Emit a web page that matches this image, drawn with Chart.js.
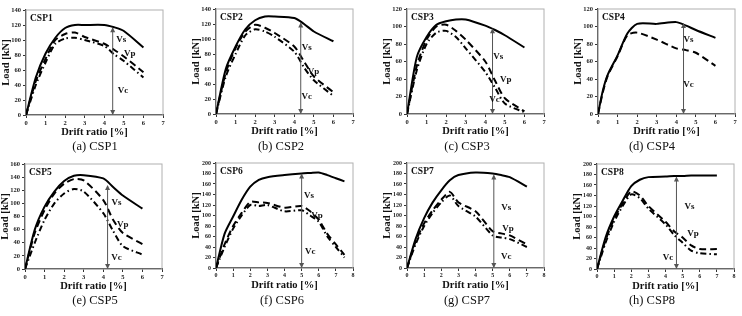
<!DOCTYPE html>
<html>
<head>
<meta charset="utf-8">
<script src="https://cdn.jsdelivr.net/npm/chart.js@4.4.0/dist/chart.umd.min.js"></script>
<style>
  body { margin: 0; background: #fff; width: 742px; height: 316px; position: relative; overflow: hidden; }
  .panel { position: absolute; width: 167px; height: 137px; }
  .cap { position: absolute; font-family: "Liberation Serif", serif; font-size: 12.5px; color: #111; transform: translate(-50%, -50%); white-space: nowrap; }
</style>
</head>
<body>
<script>
// drift ratio [%] and load [kN]
var driftA = [0, 0.5, 1, 1.5, 2, 2.5, 3, 4, 4.5, 5, 6];
var csp1Vs = [0, 50, 82, 103, 116, 120, 120, 120, 117, 112, 90];
var csp1Vp = [0, 45, 75, 100, 108, 110, 104, 95, 87, 78, 57];
var csp1Vc = [0, 40, 70, 95, 102, 103, 100, 92, 81, 72, 50];

var csp2Vs = [0, 60, 90, 113, 125, 130, 130, 128, 120, 110, 97];
var csp2Vp = [0, 55, 88, 110, 119, 115, 108, 90, 70, 50, 29];
var csp2Vc = [0, 50, 80, 105, 113, 110, 103, 83, 62, 45, 24];

var csp3Vs = [0, 65, 88, 102, 106, 108, 108, 101, 96, 90, 76];
var csp3Vp = [0, 55, 85, 100, 102, 95, 85, 60, 38, 18, 3];
var csp3Vc = [0, 50, 80, 93, 95, 88, 75, 48, 30, 12, 2];

var driftD = [0, 0.25, 0.5, 1, 1.5, 2, 3, 4, 4.5, 5, 6];
var csp4Vs = [0, 27, 45, 67, 92, 103, 103, 105, 101, 96, 87];
var csp4Vp = [0, 25, 44, 66, 90, 93, 85, 75, 73, 70, 55];

var csp5Vs = [0, 60, 95, 118, 134, 142, 143, 138, 125, 112, 92];
var csp5Vp = [0, 55, 90, 115, 130, 137, 135, 105, 75, 55, 38];
var csp5Vc = [0, 40, 75, 100, 115, 122, 118, 85, 58, 35, 22];

var driftF = [0, 0.5, 1, 1.5, 2, 2.5, 3, 4, 5, 5.5, 6, 6.5, 7, 7.5];
var csp6Vs = [0, 65, 98, 130, 155, 168, 173, 177, 180, 181, 182, 177, 171, 165];
var csp6Vp = [0, 45, 80, 105, 126, 125, 124, 115, 118, 108, 92, 65, 45, 25];
var csp6Vc = [0, 40, 75, 100, 120, 118, 120, 108, 110, 100, 88, 60, 40, 20];

var driftG = [0, 0.5, 1, 1.5, 2, 2.5, 3, 4, 5, 5.5, 6, 7];
var csp7Vs = [0, 55, 95, 125, 148, 167, 177, 182, 180, 177, 173, 155];
var csp7Vp = [0, 50, 85, 110, 130, 145, 125, 108, 70, 66, 62, 45];
var csp7Vc = [0, 45, 80, 105, 125, 138, 118, 98, 62, 58, 55, 40];

var driftH = [0, 0.5, 1, 1.5, 2, 2.5, 3, 4, 4.5, 5, 5.5, 6, 7];
var csp8Vs = [0, 60, 100, 130, 158, 170, 175, 176, 177, 177, 178, 178, 178];
var csp8Vp = [0, 55, 95, 125, 148, 140, 120, 90, 72, 60, 45, 38, 38];
var csp8Vc = [0, 50, 90, 120, 142, 135, 115, 85, 65, 50, 35, 30, 28];

var captions = ['(a) CSP1', '(b) CSP2', '(c) CSP3', '(d) CSP4', '(e) CSP5', '(f) CSP6', '(g) CSP7', '(h) CSP8'];

var panels = [
  { name: 'CSP1', x: driftA, vs: csp1Vs, vp: csp1Vp, vc: csp1Vc, xMax: 7, yMax: 140, arrow: [4.43, 117], lab: [[4.87, 100], [5.3, 82], [4.95, 33]], pos: [0, 2], cap: [95, 146] },
  { name: 'CSP2', x: driftA, vs: csp2Vs, vp: csp2Vp, vc: csp2Vc, xMax: 7, yMax: 140, arrow: [4.33, 122], lab: [[4.64, 88], [4.98, 57], [4.64, 23]], pos: [190, 1], cap: [281, 146] },
  { name: 'CSP3', x: driftA, vs: csp3Vs, vp: csp3Vp, vc: csp3Vc, xMax: 7, yMax: 120, arrow: [4.37, 98], lab: [[4.66, 66], [5.04, 39], [4.47, 16]], pos: [381, 1], cap: [467, 146] },
  { name: 'CSP4', x: driftD, vs: csp4Vs, vp: csp4Vp, vc: null, xMax: 7, yMax: 120, arrow: [4.37, 104], lab: [[4.62, 85], null, [4.62, 33]], pos: [572, 1], cap: [652, 146] },
  { name: 'CSP5', x: driftA, vs: csp5Vs, vp: csp5Vp, vc: csp5Vc, xMax: 7, yMax: 160, arrow: [4.22, 128], lab: [[4.68, 101], [4.99, 68], [4.68, 17]], pos: [-1, 156], cap: [95, 300] },
  { name: 'CSP6', x: driftF, vs: csp6Vs, vp: csp6Vp, vc: csp6Vc, xMax: 8, yMax: 200, arrow: [5.0, 180], lab: [[5.43, 137], [5.9, 100], [5.5, 32]], pos: [190, 155], cap: [282, 300] },
  { name: 'CSP7', x: driftG, vs: csp7Vs, vp: csp7Vp, vc: csp7Vc, xMax: 8, yMax: 200, arrow: [5.07, 178], lab: [[5.8, 115], [5.9, 74], [5.8, 21]], pos: [381, 155], cap: [467, 300] },
  { name: 'CSP8', x: driftH, vs: csp8Vs, vp: csp8Vp, vc: csp8Vc, xMax: 8, yMax: 200, arrow: [4.64, 176], lab: [[5.4, 119], [5.6, 68], [4.14, 22]], pos: [571, 156], cap: [652, 300] }
];

var serif = '"Liberation Serif", "Times New Roman", serif';

function pts(xs, ys) {
  var out = [];
  for (var i = 0; i < xs.length; i++) out.push({ x: xs[i], y: ys[i] });
  return out;
}

// grey frame, arrow and Vs/Vp/Vc labels drawn in data coordinates
var decor = {
  id: 'decor',
  beforeDatasetsDraw: function(chart) {
    var a = chart.chartArea, ctx = chart.ctx;
    ctx.save();
    ctx.strokeStyle = '#b0b0b0';
    ctx.lineWidth = 1;
    ctx.strokeRect(a.left, a.top, a.right - a.left, a.bottom - a.top);
    ctx.restore();
  },
  afterDatasetsDraw: function(chart) {
    var p = chart.options.plugins.decor.panel;
    var sx = chart.scales.x, sy = chart.scales.y, ctx = chart.ctx, a = chart.chartArea;
    ctx.save();
    var ax = sx.getPixelForValue(p.arrow[0]);
    var y0 = sy.getPixelForValue(0), y1 = sy.getPixelForValue(p.arrow[1]);
    ctx.strokeStyle = '#555';
    ctx.fillStyle = '#555';
    ctx.lineWidth = 1;
    ctx.beginPath(); ctx.moveTo(ax, y0 - 1); ctx.lineTo(ax, y1 + 1); ctx.stroke();
    ctx.beginPath(); ctx.moveTo(ax, y1); ctx.lineTo(ax - 2.5, y1 + 5); ctx.lineTo(ax + 2.5, y1 + 5); ctx.closePath(); ctx.fill();
    ctx.beginPath(); ctx.moveTo(ax, y0); ctx.lineTo(ax - 2.5, y0 - 5); ctx.lineTo(ax + 2.5, y0 - 5); ctx.closePath(); ctx.fill();

    ctx.fillStyle = '#111';
    ctx.font = 'bold 9.5px ' + serif;
    ctx.textBaseline = 'top';
    ctx.textAlign = 'left';
    ctx.fillText(p.name, a.left + 4, a.top + 4);

    var names = ['Vs', 'Vp', 'Vc'];
    ctx.font = 'bold 9px ' + serif;
    ctx.textBaseline = 'middle';
    ctx.textAlign = 'center';
    for (var i = 0; i < 3; i++) {
      if (!p.lab[i]) continue;
      ctx.fillText(names[i], sx.getPixelForValue(p.lab[i][0]), sy.getPixelForValue(p.lab[i][1]));
    }
    ctx.restore();
  }
};

panels.forEach(function(p, idx) {
  var div = document.createElement('div');
  div.className = 'panel';
  div.style.left = p.pos[0] + 'px';
  div.style.top = p.pos[1] + 'px';
  var cv = document.createElement('canvas');
  div.appendChild(cv);
  document.body.appendChild(div);

  var cap = document.createElement('div');
  cap.className = 'cap';
  cap.style.left = p.cap[0] + 'px';
  cap.style.top = p.cap[1] + 'px';
  cap.textContent = captions[idx];
  document.body.appendChild(cap);

  var sets = [
    { data: pts(p.x, p.vs), borderColor: '#000', borderWidth: 2, borderDash: [] },
    { data: pts(p.x, p.vp), borderColor: '#000', borderWidth: 2, borderDash: [7, 4] }
  ];
  if (p.vc) sets.push({ data: pts(p.x, p.vc), borderColor: '#000', borderWidth: 2, borderDash: [6, 3, 1.5, 3] });
  sets.forEach(function(s) { s.pointRadius = 0; s.tension = 0.25; s.fill = false; });

  var tickFont = { family: serif, size: p.yMax > 160 ? 6 : 6.5, weight: 'bold' };
  new Chart(cv, {
    type: 'line',
    data: { datasets: sets },
    options: {
      responsive: true,
      maintainAspectRatio: false,
      animation: false,
      layout: { padding: { top: 8, right: 4, left: 0, bottom: 0 } },
      plugins: { legend: { display: false }, tooltip: { enabled: false }, decor: { panel: p } },
      scales: {
        x: {
          type: 'linear', min: 0, max: p.xMax,
          afterFit: function(s) { s.height = 24; },
          ticks: { stepSize: 1, autoSkip: false, color: '#222', font: tickFont, padding: 1, maxRotation: 0 },
          grid: { drawOnChartArea: false, drawTicks: true, tickLength: 3, color: '#333' },
          border: { color: '#222', width: 1.2 },
          title: { display: true, text: 'Drift ratio [%]', color: '#111', font: { family: serif, size: 10.5, weight: 'bold' }, padding: { top: 0, bottom: 0 } }
        },
        y: {
          min: 0, max: p.yMax,
          afterFit: function(s) { s.width = 26; },
          ticks: { stepSize: 20, autoSkip: false, color: '#222', font: tickFont, padding: 2 },
          grid: { drawOnChartArea: false, drawTicks: true, tickLength: 3, color: '#333' },
          border: { color: '#222', width: 1.2 },
          title: { display: true, text: 'Load [kN]', color: '#111', font: { family: serif, size: 10.5, weight: 'bold' }, padding: { top: 0, bottom: 0 } }
        }
      }
    },
    plugins: [decor]
  });
});
</script>
</body>
</html>
